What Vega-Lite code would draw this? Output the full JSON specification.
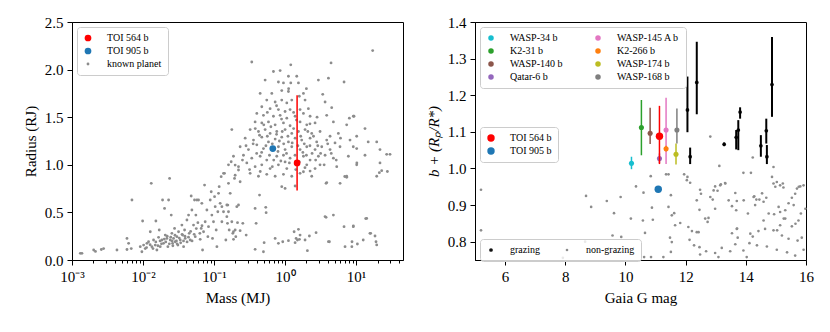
{
  "$schema": "https://vega.github.io/schema/vega-lite/v6.json",
  "padding": {"left": 22, "top": 14, "right": 5, "bottom": 5},
  "config": {
    "font": "Liberation Serif, Times New Roman, serif",
    "view": {"stroke": "black", "strokeWidth": 1},
    "axis": {"domainColor": "black", "tickColor": "black", "labelColor": "black", "titleColor": "black", "labelFont": "Liberation Serif, Times New Roman, serif", "titleFont": "Liberation Serif, Times New Roman, serif", "labelFontSize": 15, "titleFontSize": 15, "titleFontWeight": "normal", "grid": false, "tickSize": 5, "labelPadding": 4, "titlePadding": 6},
    "legend": {"labelFont": "Liberation Serif, Times New Roman, serif", "labelFontSize": 10, "labelColor": "black", "strokeColor": "#cccccc", "fillColor": "rgba(255,255,255,0.8)", "padding": 6, "cornerRadius": 3, "orient": "none", "symbolStrokeWidth": 0, "rowPadding": 3}
  },
  "datasets": {
    "left": [
      {"log10_mass": -2.883, "radius": 0.07, "label": "known planet"},
      {"log10_mass": -2.86, "radius": 0.07, "label": "known planet"},
      {"log10_mass": -2.695, "radius": 0.105, "label": "known planet"},
      {"log10_mass": -2.67, "radius": 0.09, "label": "known planet"},
      {"log10_mass": -2.587, "radius": 0.11, "label": "known planet"},
      {"log10_mass": -2.555, "radius": 0.12, "label": "known planet"},
      {"log10_mass": -2.367, "radius": 0.105, "label": "known planet"},
      {"log10_mass": -2.226, "radius": 0.11, "label": "known planet"},
      {"log10_mass": -2.203, "radius": 0.175, "label": "known planet"},
      {"log10_mass": -2.226, "radius": 0.227, "label": "known planet"},
      {"log10_mass": -2.156, "radius": 0.63, "label": "known planet"},
      {"log10_mass": -2.166, "radius": 0.12, "label": "known planet"},
      {"log10_mass": -2.039, "radius": 0.14, "label": "known planet"},
      {"log10_mass": -2.016, "radius": 0.087, "label": "known planet"},
      {"log10_mass": -2.006, "radius": 0.41, "label": "known planet"},
      {"log10_mass": -1.992, "radius": 0.157, "label": "known planet"},
      {"log10_mass": -1.969, "radius": 0.12, "label": "known planet"},
      {"log10_mass": -1.945, "radius": 0.175, "label": "known planet"},
      {"log10_mass": -1.922, "radius": 0.192, "label": "known planet"},
      {"log10_mass": -1.898, "radius": 0.297, "label": "known planet"},
      {"log10_mass": -1.884, "radius": 0.805, "label": "known planet"},
      {"log10_mass": -1.875, "radius": 0.14, "label": "known planet"},
      {"log10_mass": -1.852, "radius": 0.21, "label": "known planet"},
      {"log10_mass": -1.828, "radius": 0.157, "label": "known planet"},
      {"log10_mass": -1.819, "radius": 0.41, "label": "known planet"},
      {"log10_mass": -1.805, "radius": 0.105, "label": "known planet"},
      {"log10_mass": -1.781, "radius": 0.238, "label": "known planet"},
      {"log10_mass": -1.772, "radius": 0.315, "label": "known planet"},
      {"log10_mass": -1.758, "radius": 0.14, "label": "known planet"},
      {"log10_mass": -1.734, "radius": 0.21, "label": "known planet"},
      {"log10_mass": -1.725, "radius": 0.63, "label": "known planet"},
      {"log10_mass": -1.711, "radius": 0.175, "label": "known planet"},
      {"log10_mass": -1.697, "radius": 0.542, "label": "known planet"},
      {"log10_mass": -1.687, "radius": 0.262, "label": "known planet"},
      {"log10_mass": -1.664, "radius": 0.227, "label": "known planet"},
      {"log10_mass": -1.65, "radius": 0.14, "label": "known planet"},
      {"log10_mass": -1.64, "radius": 0.63, "label": "known planet"},
      {"log10_mass": -1.626, "radius": 0.857, "label": "known planet"},
      {"log10_mass": -1.617, "radius": 0.21, "label": "known planet"},
      {"log10_mass": -1.603, "radius": 0.472, "label": "known planet"},
      {"log10_mass": -1.594, "radius": 0.28, "label": "known planet"},
      {"log10_mass": -1.584, "radius": 0.175, "label": "known planet"},
      {"log10_mass": -1.57, "radius": 0.227, "label": "known planet"},
      {"log10_mass": -1.556, "radius": 0.332, "label": "known planet"},
      {"log10_mass": -1.547, "radius": 0.192, "label": "known planet"},
      {"log10_mass": -1.523, "radius": 0.245, "label": "known planet"},
      {"log10_mass": -1.509, "radius": 0.157, "label": "known planet"},
      {"log10_mass": -1.5, "radius": 0.297, "label": "known planet"},
      {"log10_mass": -1.476, "radius": 0.21, "label": "known planet"},
      {"log10_mass": -1.453, "radius": 0.367, "label": "known planet"},
      {"log10_mass": -1.443, "radius": 0.262, "label": "known planet"},
      {"log10_mass": -1.429, "radius": 0.14, "label": "known planet"},
      {"log10_mass": -1.415, "radius": 0.315, "label": "known planet"},
      {"log10_mass": -1.406, "radius": 0.227, "label": "known planet"},
      {"log10_mass": -1.382, "radius": 0.42, "label": "known planet"},
      {"log10_mass": -1.359, "radius": 0.472, "label": "known planet"},
      {"log10_mass": -1.35, "radius": 0.28, "label": "known planet"},
      {"log10_mass": -1.336, "radius": 0.21, "label": "known planet"},
      {"log10_mass": -1.322, "radius": 0.672, "label": "known planet"},
      {"log10_mass": -1.312, "radius": 0.525, "label": "known planet"},
      {"log10_mass": -1.289, "radius": 0.367, "label": "known planet"},
      {"log10_mass": -1.275, "radius": 0.63, "label": "known planet"},
      {"log10_mass": -1.265, "radius": 0.245, "label": "known planet"},
      {"log10_mass": -1.256, "radius": 0.472, "label": "known planet"},
      {"log10_mass": -1.242, "radius": 0.63, "label": "known planet"},
      {"log10_mass": -1.228, "radius": 0.392, "label": "known planet"},
      {"log10_mass": -1.219, "radius": 0.63, "label": "known planet"},
      {"log10_mass": -1.195, "radius": 0.217, "label": "known planet"},
      {"log10_mass": -1.181, "radius": 0.332, "label": "known planet"},
      {"log10_mass": -1.172, "radius": 0.595, "label": "known planet"},
      {"log10_mass": -1.162, "radius": 0.105, "label": "known planet"},
      {"log10_mass": -1.148, "radius": 0.297, "label": "known planet"},
      {"log10_mass": -1.134, "radius": 0.787, "label": "known planet"},
      {"log10_mass": -1.125, "radius": 0.402, "label": "known planet"},
      {"log10_mass": -1.101, "radius": 0.525, "label": "known planet"},
      {"log10_mass": -1.087, "radius": 0.245, "label": "known planet"},
      {"log10_mass": -1.078, "radius": 0.35, "label": "known planet"},
      {"log10_mass": -1.054, "radius": 0.63, "label": "known planet"},
      {"log10_mass": -1.04, "radius": 0.717, "label": "known planet"},
      {"log10_mass": -1.031, "radius": 0.472, "label": "known planet"},
      {"log10_mass": -1.022, "radius": 0.227, "label": "known planet"},
      {"log10_mass": -1.008, "radius": 0.402, "label": "known planet"},
      {"log10_mass": -0.993, "radius": 0.665, "label": "known planet"},
      {"log10_mass": -0.984, "radius": 0.56, "label": "known planet"},
      {"log10_mass": -0.97, "radius": 0.315, "label": "known planet"},
      {"log10_mass": -0.96, "radius": 0.14, "label": "known planet"},
      {"log10_mass": -0.947, "radius": 0.507, "label": "known planet"},
      {"log10_mass": -0.937, "radius": 0.7, "label": "known planet"},
      {"log10_mass": -0.928, "radius": 0.77, "label": "known planet"},
      {"log10_mass": -0.914, "radius": 0.595, "label": "known planet"},
      {"log10_mass": -0.9, "radius": 0.875, "label": "known planet"},
      {"log10_mass": -0.89, "radius": 0.402, "label": "known planet"},
      {"log10_mass": -0.867, "radius": 0.507, "label": "known planet"},
      {"log10_mass": -0.853, "radius": 0.91, "label": "known planet"},
      {"log10_mass": -0.834, "radius": 0.21, "label": "known planet"},
      {"log10_mass": -0.82, "radius": 0.455, "label": "known planet"},
      {"log10_mass": -0.806, "radius": 0.577, "label": "known planet"},
      {"log10_mass": -0.797, "radius": 0.805, "label": "known planet"},
      {"log10_mass": -0.787, "radius": 0.315, "label": "known planet"},
      {"log10_mass": -0.773, "radius": 0.7, "label": "known planet"},
      {"log10_mass": -0.759, "radius": 1.032, "label": "known planet"},
      {"log10_mass": -0.75, "radius": 0.402, "label": "known planet"},
      {"log10_mass": -0.727, "radius": 0.297, "label": "known planet"},
      {"log10_mass": -0.712, "radius": 0.857, "label": "known planet"},
      {"log10_mass": -0.703, "radius": 0.997, "label": "known planet"},
      {"log10_mass": -0.694, "radius": 0.245, "label": "known planet"},
      {"log10_mass": -0.68, "radius": 0.56, "label": "known planet"},
      {"log10_mass": -0.656, "radius": 0.945, "label": "known planet"},
      {"log10_mass": -1.95, "radius": 0.13, "label": "known planet"},
      {"log10_mass": -1.9, "radius": 0.16, "label": "known planet"},
      {"log10_mass": -1.86, "radius": 0.12, "label": "known planet"},
      {"log10_mass": -1.82, "radius": 0.19, "label": "known planet"},
      {"log10_mass": -1.79, "radius": 0.15, "label": "known planet"},
      {"log10_mass": -1.76, "radius": 0.2, "label": "known planet"},
      {"log10_mass": -1.74, "radius": 0.17, "label": "known planet"},
      {"log10_mass": -1.7, "radius": 0.22, "label": "known planet"},
      {"log10_mass": -1.68, "radius": 0.19, "label": "known planet"},
      {"log10_mass": -1.66, "radius": 0.25, "label": "known planet"},
      {"log10_mass": -1.63, "radius": 0.17, "label": "known planet"},
      {"log10_mass": -1.61, "radius": 0.24, "label": "known planet"},
      {"log10_mass": -1.59, "radius": 0.2, "label": "known planet"},
      {"log10_mass": -1.58, "radius": 0.15, "label": "known planet"},
      {"log10_mass": -1.55, "radius": 0.26, "label": "known planet"},
      {"log10_mass": -1.53, "radius": 0.2, "label": "known planet"},
      {"log10_mass": -1.52, "radius": 0.17, "label": "known planet"},
      {"log10_mass": -1.49, "radius": 0.23, "label": "known planet"},
      {"log10_mass": -1.47, "radius": 0.18, "label": "known planet"},
      {"log10_mass": -1.45, "radius": 0.27, "label": "known planet"},
      {"log10_mass": -1.43, "radius": 0.2, "label": "known planet"},
      {"log10_mass": -1.41, "radius": 0.25, "label": "known planet"},
      {"log10_mass": -1.38, "radius": 0.19, "label": "known planet"},
      {"log10_mass": -1.36, "radius": 0.24, "label": "known planet"},
      {"log10_mass": -1.33, "radius": 0.3, "label": "known planet"},
      {"log10_mass": -1.31, "radius": 0.2, "label": "known planet"},
      {"log10_mass": -1.28, "radius": 0.27, "label": "known planet"},
      {"log10_mass": -1.25, "radius": 0.33, "label": "known planet"},
      {"log10_mass": -1.2, "radius": 0.28, "label": "known planet"},
      {"log10_mass": -1.17, "radius": 0.36, "label": "known planet"},
      {"log10_mass": -0.469, "radius": 2.08, "label": "known planet"},
      {"log10_mass": 0.08, "radius": 2.05, "label": "known planet"},
      {"log10_mass": 0.647, "radius": 2.07, "label": "known planet"},
      {"log10_mass": -0.164, "radius": 1.98, "label": "known planet"},
      {"log10_mass": -0.07, "radius": 1.99, "label": "known planet"},
      {"log10_mass": 0.047, "radius": 1.93, "label": "known planet"},
      {"log10_mass": 0.164, "radius": 1.93, "label": "known planet"},
      {"log10_mass": -0.281, "radius": 1.89, "label": "known planet"},
      {"log10_mass": -0.094, "radius": 1.87, "label": "known planet"},
      {"log10_mass": -0.023, "radius": 1.86, "label": "known planet"},
      {"log10_mass": 0.08, "radius": 1.86, "label": "known planet"},
      {"log10_mass": 0.188, "radius": 1.86, "label": "known planet"},
      {"log10_mass": 0.469, "radius": 1.89, "label": "known planet"},
      {"log10_mass": 0.61, "radius": 1.91, "label": "known planet"},
      {"log10_mass": 0.83, "radius": 1.87, "label": "known planet"},
      {"log10_mass": -0.351, "radius": 1.75, "label": "known planet"},
      {"log10_mass": -0.187, "radius": 1.75, "label": "known planet"},
      {"log10_mass": -0.047, "radius": 1.78, "label": "known planet"},
      {"log10_mass": 0.047, "radius": 1.77, "label": "known planet"},
      {"log10_mass": 0.258, "radius": 1.75, "label": "known planet"},
      {"log10_mass": 0.53, "radius": 1.74, "label": "known planet"},
      {"log10_mass": -0.258, "radius": 1.68, "label": "known planet"},
      {"log10_mass": -0.14, "radius": 1.66, "label": "known planet"},
      {"log10_mass": -0.047, "radius": 1.68, "label": "known planet"},
      {"log10_mass": 0.024, "radius": 1.65, "label": "known planet"},
      {"log10_mass": 0.094, "radius": 1.68, "label": "known planet"},
      {"log10_mass": 0.281, "radius": 1.68, "label": "known planet"},
      {"log10_mass": 0.563, "radius": 1.66, "label": "known planet"},
      {"log10_mass": -0.328, "radius": 1.61, "label": "known planet"},
      {"log10_mass": -0.211, "radius": 1.59, "label": "known planet"},
      {"log10_mass": -0.094, "radius": 1.58, "label": "known planet"},
      {"log10_mass": 0.0, "radius": 1.56, "label": "known planet"},
      {"log10_mass": 0.07, "radius": 1.58, "label": "known planet"},
      {"log10_mass": 0.211, "radius": 1.58, "label": "known planet"},
      {"log10_mass": 0.328, "radius": 1.59, "label": "known planet"},
      {"log10_mass": 0.656, "radius": 1.6, "label": "known planet"},
      {"log10_mass": -0.398, "radius": 1.54, "label": "known planet"},
      {"log10_mass": -0.305, "radius": 1.52, "label": "known planet"},
      {"log10_mass": -0.164, "radius": 1.51, "label": "known planet"},
      {"log10_mass": -0.07, "radius": 1.52, "label": "known planet"},
      {"log10_mass": 0.024, "radius": 1.49, "label": "known planet"},
      {"log10_mass": 0.141, "radius": 1.51, "label": "known planet"},
      {"log10_mass": 0.258, "radius": 1.54, "label": "known planet"},
      {"log10_mass": 0.352, "radius": 1.51, "label": "known planet"},
      {"log10_mass": 0.586, "radius": 1.52, "label": "known planet"},
      {"log10_mass": 0.961, "radius": 1.51, "label": "known planet"},
      {"log10_mass": -0.422, "radius": 1.45, "label": "known planet"},
      {"log10_mass": -0.328, "radius": 1.44, "label": "known planet"},
      {"log10_mass": -0.234, "radius": 1.45, "label": "known planet"},
      {"log10_mass": -0.14, "radius": 1.42, "label": "known planet"},
      {"log10_mass": -0.023, "radius": 1.44, "label": "known planet"},
      {"log10_mass": 0.07, "radius": 1.41, "label": "known planet"},
      {"log10_mass": 0.211, "radius": 1.45, "label": "known planet"},
      {"log10_mass": 0.305, "radius": 1.42, "label": "known planet"},
      {"log10_mass": 0.422, "radius": 1.44, "label": "known planet"},
      {"log10_mass": 0.68, "radius": 1.45, "label": "known planet"},
      {"log10_mass": 0.867, "radius": 1.42, "label": "known planet"},
      {"log10_mass": 1.125, "radius": 1.38, "label": "known planet"},
      {"log10_mass": -0.75, "radius": 1.37, "label": "known planet"},
      {"log10_mass": -0.492, "radius": 1.37, "label": "known planet"},
      {"log10_mass": -0.375, "radius": 1.35, "label": "known planet"},
      {"log10_mass": -0.281, "radius": 1.37, "label": "known planet"},
      {"log10_mass": -0.211, "radius": 1.33, "label": "known planet"},
      {"log10_mass": -0.117, "radius": 1.35, "label": "known planet"},
      {"log10_mass": 0.0, "radius": 1.37, "label": "known planet"},
      {"log10_mass": 0.094, "radius": 1.33, "label": "known planet"},
      {"log10_mass": 0.188, "radius": 1.35, "label": "known planet"},
      {"log10_mass": 0.281, "radius": 1.37, "label": "known planet"},
      {"log10_mass": 0.375, "radius": 1.33, "label": "known planet"},
      {"log10_mass": 0.492, "radius": 1.35, "label": "known planet"},
      {"log10_mass": 0.633, "radius": 1.3, "label": "known planet"},
      {"log10_mass": 0.75, "radius": 1.33, "label": "known planet"},
      {"log10_mass": 1.008, "radius": 1.3, "label": "known planet"},
      {"log10_mass": 1.29, "radius": 1.24, "label": "known planet"},
      {"log10_mass": -0.562, "radius": 1.28, "label": "known planet"},
      {"log10_mass": -0.445, "radius": 1.26, "label": "known planet"},
      {"log10_mass": -0.328, "radius": 1.29, "label": "known planet"},
      {"log10_mass": -0.234, "radius": 1.24, "label": "known planet"},
      {"log10_mass": -0.14, "radius": 1.27, "label": "known planet"},
      {"log10_mass": -0.047, "radius": 1.29, "label": "known planet"},
      {"log10_mass": 0.047, "radius": 1.24, "label": "known planet"},
      {"log10_mass": 0.141, "radius": 1.28, "label": "known planet"},
      {"log10_mass": 0.234, "radius": 1.26, "label": "known planet"},
      {"log10_mass": 0.352, "radius": 1.28, "label": "known planet"},
      {"log10_mass": 0.445, "radius": 1.24, "label": "known planet"},
      {"log10_mass": 0.586, "radius": 1.26, "label": "known planet"},
      {"log10_mass": 0.703, "radius": 1.23, "label": "known planet"},
      {"log10_mass": 0.914, "radius": 1.26, "label": "known planet"},
      {"log10_mass": -0.633, "radius": 1.19, "label": "known planet"},
      {"log10_mass": -0.516, "radius": 1.16, "label": "known planet"},
      {"log10_mass": -0.398, "radius": 1.21, "label": "known planet"},
      {"log10_mass": -0.305, "radius": 1.17, "label": "known planet"},
      {"log10_mass": -0.094, "radius": 1.19, "label": "known planet"},
      {"log10_mass": 0.0, "radius": 1.16, "label": "known planet"},
      {"log10_mass": 0.094, "radius": 1.19, "label": "known planet"},
      {"log10_mass": 0.211, "radius": 1.16, "label": "known planet"},
      {"log10_mass": 0.305, "radius": 1.19, "label": "known planet"},
      {"log10_mass": 0.422, "radius": 1.16, "label": "known planet"},
      {"log10_mass": 0.516, "radius": 1.19, "label": "known planet"},
      {"log10_mass": 0.633, "radius": 1.16, "label": "known planet"},
      {"log10_mass": 0.773, "radius": 1.19, "label": "known planet"},
      {"log10_mass": 1.008, "radius": 1.17, "label": "known planet"},
      {"log10_mass": 1.336, "radius": 1.16, "label": "known planet"},
      {"log10_mass": -0.727, "radius": 1.09, "label": "known planet"},
      {"log10_mass": -0.586, "radius": 1.1, "label": "known planet"},
      {"log10_mass": -0.469, "radius": 1.07, "label": "known planet"},
      {"log10_mass": -0.351, "radius": 1.09, "label": "known planet"},
      {"log10_mass": -0.258, "radius": 1.05, "label": "known planet"},
      {"log10_mass": -0.117, "radius": 1.09, "label": "known planet"},
      {"log10_mass": -0.023, "radius": 1.1, "label": "known planet"},
      {"log10_mass": 0.07, "radius": 1.07, "label": "known planet"},
      {"log10_mass": 0.258, "radius": 1.09, "label": "known planet"},
      {"log10_mass": 0.352, "radius": 1.05, "label": "known planet"},
      {"log10_mass": 0.469, "radius": 1.09, "label": "known planet"},
      {"log10_mass": 0.563, "radius": 1.1, "label": "known planet"},
      {"log10_mass": 0.68, "radius": 1.07, "label": "known planet"},
      {"log10_mass": 0.891, "radius": 1.09, "label": "known planet"},
      {"log10_mass": 1.43, "radius": 1.11, "label": "known planet"},
      {"log10_mass": 1.477, "radius": 1.11, "label": "known planet"},
      {"log10_mass": -0.797, "radius": 1.0, "label": "known planet"},
      {"log10_mass": -0.656, "radius": 0.98, "label": "known planet"},
      {"log10_mass": -0.539, "radius": 1.02, "label": "known planet"},
      {"log10_mass": -0.422, "radius": 0.98, "label": "known planet"},
      {"log10_mass": -0.328, "radius": 1.0, "label": "known planet"},
      {"log10_mass": -0.211, "radius": 0.96, "label": "known planet"},
      {"log10_mass": -0.094, "radius": 1.0, "label": "known planet"},
      {"log10_mass": 0.024, "radius": 0.96, "label": "known planet"},
      {"log10_mass": 0.305, "radius": 1.0, "label": "known planet"},
      {"log10_mass": 0.422, "radius": 0.96, "label": "known planet"},
      {"log10_mass": 0.492, "radius": 1.0, "label": "known planet"},
      {"log10_mass": 0.727, "radius": 0.98, "label": "known planet"},
      {"log10_mass": 1.008, "radius": 1.0, "label": "known planet"},
      {"log10_mass": 1.336, "radius": 1.02, "label": "known planet"},
      {"log10_mass": -0.867, "radius": 0.91, "label": "known planet"},
      {"log10_mass": -0.703, "radius": 0.89, "label": "known planet"},
      {"log10_mass": -0.492, "radius": 0.91, "label": "known planet"},
      {"log10_mass": -0.375, "radius": 0.88, "label": "known planet"},
      {"log10_mass": -0.258, "radius": 0.9, "label": "known planet"},
      {"log10_mass": -0.14, "radius": 0.88, "label": "known planet"},
      {"log10_mass": -0.023, "radius": 0.9, "label": "known planet"},
      {"log10_mass": 0.094, "radius": 0.88, "label": "known planet"},
      {"log10_mass": 0.211, "radius": 0.91, "label": "known planet"},
      {"log10_mass": 0.375, "radius": 0.88, "label": "known planet"},
      {"log10_mass": 0.867, "radius": 0.88, "label": "known planet"},
      {"log10_mass": 1.29, "radius": 0.88, "label": "known planet"},
      {"log10_mass": -0.89, "radius": 0.56, "label": "known planet"},
      {"log10_mass": -0.82, "radius": 0.578, "label": "known planet"},
      {"log10_mass": -0.797, "radius": 0.507, "label": "known planet"},
      {"log10_mass": -0.656, "radius": 0.578, "label": "known planet"},
      {"log10_mass": -0.811, "radius": 0.385, "label": "known planet"},
      {"log10_mass": -0.67, "radius": 0.392, "label": "known planet"},
      {"log10_mass": -0.595, "radius": 0.385, "label": "known planet"},
      {"log10_mass": -0.703, "radius": 0.315, "label": "known planet"},
      {"log10_mass": -0.736, "radius": 0.28, "label": "known planet"},
      {"log10_mass": -0.633, "radius": 0.308, "label": "known planet"},
      {"log10_mass": -0.548, "radius": 0.262, "label": "known planet"},
      {"log10_mass": -0.726, "radius": 0.217, "label": "known planet"},
      {"log10_mass": -0.422, "radius": 0.542, "label": "known planet"},
      {"log10_mass": -0.408, "radius": 0.385, "label": "known planet"},
      {"log10_mass": -0.272, "radius": 0.553, "label": "known planet"},
      {"log10_mass": -0.267, "radius": 0.497, "label": "known planet"},
      {"log10_mass": -0.422, "radius": 0.112, "label": "known planet"},
      {"log10_mass": -0.295, "radius": 0.182, "label": "known planet"},
      {"log10_mass": -0.305, "radius": 0.087, "label": "known planet"},
      {"log10_mass": -0.14, "radius": 0.227, "label": "known planet"},
      {"log10_mass": -0.094, "radius": 0.175, "label": "known planet"},
      {"log10_mass": -0.033, "radius": 0.192, "label": "known planet"},
      {"log10_mass": 0.047, "radius": 0.203, "label": "known planet"},
      {"log10_mass": 0.127, "radius": 0.297, "label": "known planet"},
      {"log10_mass": 0.188, "radius": 0.322, "label": "known planet"},
      {"log10_mass": 0.155, "radius": 0.227, "label": "known planet"},
      {"log10_mass": 0.174, "radius": 0.21, "label": "known planet"},
      {"log10_mass": 0.202, "radius": 0.217, "label": "known planet"},
      {"log10_mass": 0.141, "radius": 0.182, "label": "known planet"},
      {"log10_mass": 0.211, "radius": 0.262, "label": "known planet"},
      {"log10_mass": 0.281, "radius": 0.21, "label": "known planet"},
      {"log10_mass": 0.314, "radius": 0.098, "label": "known planet"},
      {"log10_mass": 0.342, "radius": 0.252, "label": "known planet"},
      {"log10_mass": 0.436, "radius": 0.287, "label": "known planet"},
      {"log10_mass": 0.577, "radius": 0.448, "label": "known planet"},
      {"log10_mass": 0.68, "radius": 0.472, "label": "known planet"},
      {"log10_mass": 0.624, "radius": 0.192, "label": "known planet"},
      {"log10_mass": 0.844, "radius": 0.14, "label": "known planet"},
      {"log10_mass": 0.83, "radius": 0.35, "label": "known planet"},
      {"log10_mass": 0.961, "radius": 0.357, "label": "known planet"},
      {"log10_mass": 0.942, "radius": 0.192, "label": "known planet"},
      {"log10_mass": 1.018, "radius": 0.168, "label": "known planet"},
      {"log10_mass": 1.149, "radius": 0.437, "label": "known planet"},
      {"log10_mass": 1.205, "radius": 0.28, "label": "known planet"},
      {"log10_mass": 1.266, "radius": 0.252, "label": "known planet"},
      {"log10_mass": 1.28, "radius": 0.192, "label": "known planet"},
      {"log10_mass": 1.327, "radius": 0.917, "label": "known planet"},
      {"log10_mass": 1.36, "radius": 0.938, "label": "known planet"},
      {"log10_mass": 0.774, "radius": 0.805, "label": "known planet"},
      {"log10_mass": 0.577, "radius": 0.805, "label": "known planet"},
      {"log10_mass": 0.867, "radius": 0.868, "label": "known planet"},
      {"log10_mass": 0.352, "radius": 0.934, "label": "known planet"},
      {"log10_mass": 0.258, "radius": 0.927, "label": "known planet"},
      {"log10_mass": -0.047, "radius": 0.77, "label": "known planet"},
      {"log10_mass": 0.0, "radius": 0.752, "label": "known planet"},
      {"log10_mass": 0.141, "radius": 0.777, "label": "known planet"},
      {"log10_mass": -0.36, "radius": 0.682, "label": "known planet"},
      {"log10_mass": -0.633, "radius": 0.822, "label": "known planet"},
      {"log10_mass": 1.233, "radius": 2.2, "label": "known planet"},
      {"log10_mass": 0.905, "radius": 1.49, "label": "known planet"},
      {"log10_mass": 0.97, "radius": 1.51, "label": "known planet"},
      {"log10_mass": 0.96, "radius": 1.19, "label": "known planet"},
      {"log10_mass": 1.01, "radius": 1.02, "label": "known planet"},
      {"log10_mass": 1.125, "radius": 1.1, "label": "known planet"},
      {"log10_mass": 0.586, "radius": 0.813, "label": "known planet"},
      {"log10_mass": 0.84, "radius": 0.877, "label": "known planet"},
      {"log10_mass": 0.563, "radius": 0.456, "label": "known planet"},
      {"log10_mass": 0.96, "radius": 0.35, "label": "known planet"},
      {"log10_mass": 1.135, "radius": 0.435, "label": "known planet"},
      {"log10_mass": 1.195, "radius": 0.28, "label": "known planet"},
      {"log10_mass": 1.29, "radius": 0.158, "label": "known planet"},
      {"log10_mass": 0.94, "radius": 0.14, "label": "known planet"},
      {"log10_mass": 1.1, "radius": 0.21, "label": "known planet"},
      {"log10_mass": 0.61, "radius": 0.193, "label": "known planet"},
      {"log10_mass": 1.17, "radius": 1.24, "label": "known planet"},
      {"log10_mass": 1.44, "radius": 0.93, "label": "known planet"},
      {"log10_mass": -0.45, "radius": 1.22, "label": "known planet"},
      {"log10_mass": -0.4, "radius": 1.12, "label": "known planet"},
      {"log10_mass": -0.36, "radius": 1.31, "label": "known planet"},
      {"log10_mass": -0.33, "radius": 1.13, "label": "known planet"},
      {"log10_mass": -0.3, "radius": 1.42, "label": "known planet"},
      {"log10_mass": -0.27, "radius": 1.2, "label": "known planet"},
      {"log10_mass": -0.25, "radius": 1.3, "label": "known planet"},
      {"log10_mass": -0.22, "radius": 1.1, "label": "known planet"},
      {"log10_mass": -0.2, "radius": 1.4, "label": "known planet"},
      {"log10_mass": -0.18, "radius": 1.22, "label": "known planet"},
      {"log10_mass": -0.16, "radius": 1.05, "label": "known planet"},
      {"log10_mass": -0.12, "radius": 1.32, "label": "known planet"},
      {"log10_mass": -0.1, "radius": 1.14, "label": "known planet"},
      {"log10_mass": -0.08, "radius": 1.25, "label": "known planet"},
      {"log10_mass": -0.06, "radius": 1.04, "label": "known planet"},
      {"log10_mass": -0.04, "radius": 1.35, "label": "known planet"},
      {"log10_mass": -0.02, "radius": 1.22, "label": "known planet"},
      {"log10_mass": 0.02, "radius": 1.12, "label": "known planet"},
      {"log10_mass": 0.04, "radius": 1.3, "label": "known planet"},
      {"log10_mass": 0.06, "radius": 1.02, "label": "known planet"},
      {"log10_mass": 0.1, "radius": 1.23, "label": "known planet"},
      {"log10_mass": 0.12, "radius": 1.38, "label": "known planet"},
      {"log10_mass": 0.14, "radius": 1.1, "label": "known planet"},
      {"log10_mass": 0.16, "radius": 1.47, "label": "known planet"},
      {"log10_mass": 0.18, "radius": 1.2, "label": "known planet"},
      {"log10_mass": 0.2, "radius": 1.03, "label": "known planet"},
      {"log10_mass": 0.22, "radius": 1.3, "label": "known planet"},
      {"log10_mass": 0.25, "radius": 1.13, "label": "known planet"},
      {"log10_mass": 0.27, "radius": 1.22, "label": "known planet"},
      {"log10_mass": 0.3, "radius": 1.1, "label": "known planet"},
      {"log10_mass": 0.32, "radius": 1.35, "label": "known planet"},
      {"log10_mass": 0.35, "radius": 1.2, "label": "known planet"},
      {"log10_mass": 0.38, "radius": 1.12, "label": "known planet"},
      {"log10_mass": 0.4, "radius": 1.3, "label": "known planet"},
      {"log10_mass": 0.43, "radius": 1.05, "label": "known planet"},
      {"log10_mass": 0.46, "radius": 1.2, "label": "known planet"},
      {"log10_mass": 0.5, "radius": 1.12, "label": "known planet"},
      {"log10_mass": 0.55, "radius": 1.0, "label": "known planet"},
      {"log10_mass": 0.6, "radius": 1.22, "label": "known planet"},
      {"log10_mass": 0.65, "radius": 1.12, "label": "known planet"},
      {"log10_mass": 0.72, "radius": 1.05, "label": "known planet"},
      {"log10_mass": 0.78, "radius": 1.28, "label": "known planet"},
      {"log10_mass": -0.55, "radius": 1.2, "label": "known planet"},
      {"log10_mass": -0.6, "radius": 1.05, "label": "known planet"},
      {"log10_mass": -0.5, "radius": 0.95, "label": "known planet"},
      {"log10_mass": -0.35, "radius": 0.93, "label": "known planet"},
      {"log10_mass": -0.18, "radius": 0.98, "label": "known planet"},
      {"log10_mass": 0.0, "radius": 1.03, "label": "known planet"},
      {"log10_mass": 0.15, "radius": 0.95, "label": "known planet"},
      {"log10_mass": 0.28, "radius": 0.97, "label": "known planet"},
      {"log10_mass": -0.42, "radius": 1.38, "label": "known planet"},
      {"log10_mass": -0.05, "radius": 1.48, "label": "known planet"},
      {"log10_mass": 0.12, "radius": 1.55, "label": "known planet"},
      {"log10_mass": -0.25, "radius": 1.55, "label": "known planet"},
      {"log10_mass": 0.35, "radius": 1.43, "label": "known planet"},
      {"log10_mass": 0.45, "radius": 1.5, "label": "known planet"},
      {"log10_mass": -0.12, "radius": 1.62, "label": "known planet"},
      {"log10_mass": 0.2, "radius": 1.72, "label": "known planet"},
      {"log10_mass": 0.05, "radius": 1.8, "label": "known planet"},
      {"log10_mass": 0.3, "radius": 1.8, "label": "known planet"},
      {"log10_mass": -0.173, "radius": 1.17, "label": "TOI 905 b"},
      {"log10_mass": 0.169, "radius": 1.02, "label": "TOI 564 b", "radius_low": 0.73, "radius_high": 1.73}
    ],
    "right_pts": [
      {"gaia_g": 5.2, "value": 0.942, "type": "non-grazing"},
      {"gaia_g": 5.2, "value": 0.831, "type": "non-grazing"},
      {"gaia_g": 7.92, "value": 0.756, "type": "non-grazing"},
      {"gaia_g": 8.66, "value": 0.8, "type": "non-grazing"},
      {"gaia_g": 8.69, "value": 0.925, "type": "non-grazing"},
      {"gaia_g": 8.86, "value": 0.895, "type": "non-grazing"},
      {"gaia_g": 9.38, "value": 0.911, "type": "non-grazing"},
      {"gaia_g": 9.57, "value": 0.817, "type": "non-grazing"},
      {"gaia_g": 9.62, "value": 0.878, "type": "non-grazing"},
      {"gaia_g": 9.84, "value": 0.922, "type": "non-grazing"},
      {"gaia_g": 9.86, "value": 0.813, "type": "non-grazing"},
      {"gaia_g": 10.18, "value": 0.863, "type": "non-grazing"},
      {"gaia_g": 10.35, "value": 0.951, "type": "non-grazing"},
      {"gaia_g": 10.6, "value": 0.934, "type": "non-grazing"},
      {"gaia_g": 10.58, "value": 0.858, "type": "non-grazing"},
      {"gaia_g": 10.65, "value": 0.824, "type": "non-grazing"},
      {"gaia_g": 10.84, "value": 0.979, "type": "non-grazing"},
      {"gaia_g": 10.88, "value": 0.893, "type": "non-grazing"},
      {"gaia_g": 10.91, "value": 0.86, "type": "non-grazing"},
      {"gaia_g": 10.62, "value": 0.758, "type": "non-grazing"},
      {"gaia_g": 10.85, "value": 0.758, "type": "non-grazing"},
      {"gaia_g": 11.26, "value": 0.758, "type": "non-grazing"},
      {"gaia_g": 11.35, "value": 0.984, "type": "non-grazing"},
      {"gaia_g": 11.43, "value": 0.984, "type": "non-grazing"},
      {"gaia_g": 11.95, "value": 0.984, "type": "non-grazing"},
      {"gaia_g": 12.06, "value": 0.977, "type": "non-grazing"},
      {"gaia_g": 11.43, "value": 0.895, "type": "non-grazing"},
      {"gaia_g": 11.51, "value": 0.927, "type": "non-grazing"},
      {"gaia_g": 11.62, "value": 0.878, "type": "non-grazing"},
      {"gaia_g": 11.54, "value": 0.872, "type": "non-grazing"},
      {"gaia_g": 11.48, "value": 0.811, "type": "non-grazing"},
      {"gaia_g": 11.54, "value": 0.799, "type": "non-grazing"},
      {"gaia_g": 11.51, "value": 0.772, "type": "non-grazing"},
      {"gaia_g": 11.65, "value": 0.845, "type": "non-grazing"},
      {"gaia_g": 11.82, "value": 0.851, "type": "non-grazing"},
      {"gaia_g": 12.04, "value": 0.968, "type": "non-grazing"},
      {"gaia_g": 12.15, "value": 0.961, "type": "non-grazing"},
      {"gaia_g": 12.09, "value": 0.84, "type": "non-grazing"},
      {"gaia_g": 12.21, "value": 0.829, "type": "non-grazing"},
      {"gaia_g": 12.37, "value": 0.826, "type": "non-grazing"},
      {"gaia_g": 12.13, "value": 0.805, "type": "non-grazing"},
      {"gaia_g": 12.28, "value": 0.79, "type": "non-grazing"},
      {"gaia_g": 12.46, "value": 0.785, "type": "non-grazing"},
      {"gaia_g": 12.48, "value": 0.942, "type": "non-grazing"},
      {"gaia_g": 12.51, "value": 0.931, "type": "non-grazing"},
      {"gaia_g": 12.46, "value": 0.887, "type": "non-grazing"},
      {"gaia_g": 12.73, "value": 0.854, "type": "non-grazing"},
      {"gaia_g": 12.76, "value": 0.865, "type": "non-grazing"},
      {"gaia_g": 12.37, "value": 0.913, "type": "non-grazing"},
      {"gaia_g": 12.98, "value": 0.951, "type": "non-grazing"},
      {"gaia_g": 13.06, "value": 0.939, "type": "non-grazing"},
      {"gaia_g": 13.17, "value": 0.957, "type": "non-grazing"},
      {"gaia_g": 13.31, "value": 0.96, "type": "non-grazing"},
      {"gaia_g": 12.93, "value": 0.94, "type": "non-grazing"},
      {"gaia_g": 12.9, "value": 0.915, "type": "non-grazing"},
      {"gaia_g": 12.82, "value": 0.922, "type": "non-grazing"},
      {"gaia_g": 12.98, "value": 0.89, "type": "non-grazing"},
      {"gaia_g": 13.54, "value": 0.897, "type": "non-grazing"},
      {"gaia_g": 13.65, "value": 0.933, "type": "non-grazing"},
      {"gaia_g": 13.7, "value": 0.911, "type": "non-grazing"},
      {"gaia_g": 13.68, "value": 0.886, "type": "non-grazing"},
      {"gaia_g": 13.92, "value": 0.988, "type": "non-grazing"},
      {"gaia_g": 14.17, "value": 0.988, "type": "non-grazing"},
      {"gaia_g": 14.28, "value": 0.924, "type": "non-grazing"},
      {"gaia_g": 14.35, "value": 0.915, "type": "non-grazing"},
      {"gaia_g": 14.45, "value": 0.915, "type": "non-grazing"},
      {"gaia_g": 14.59, "value": 0.909, "type": "non-grazing"},
      {"gaia_g": 14.68, "value": 0.92, "type": "non-grazing"},
      {"gaia_g": 14.92, "value": 0.959, "type": "non-grazing"},
      {"gaia_g": 14.98, "value": 0.95, "type": "non-grazing"},
      {"gaia_g": 15.03, "value": 0.963, "type": "non-grazing"},
      {"gaia_g": 15.14, "value": 0.954, "type": "non-grazing"},
      {"gaia_g": 15.23, "value": 0.959, "type": "non-grazing"},
      {"gaia_g": 15.25, "value": 0.948, "type": "non-grazing"},
      {"gaia_g": 14.94, "value": 0.875, "type": "non-grazing"},
      {"gaia_g": 15.14, "value": 0.881, "type": "non-grazing"},
      {"gaia_g": 15.31, "value": 0.886, "type": "non-grazing"},
      {"gaia_g": 15.42, "value": 0.905, "type": "non-grazing"},
      {"gaia_g": 15.53, "value": 0.92, "type": "non-grazing"},
      {"gaia_g": 15.64, "value": 0.931, "type": "non-grazing"},
      {"gaia_g": 15.81, "value": 0.951, "type": "non-grazing"},
      {"gaia_g": 15.92, "value": 0.954, "type": "non-grazing"},
      {"gaia_g": 15.7, "value": 0.945, "type": "non-grazing"},
      {"gaia_g": 15.59, "value": 0.9, "type": "non-grazing"},
      {"gaia_g": 15.31, "value": 0.863, "type": "non-grazing"},
      {"gaia_g": 15.14, "value": 0.845, "type": "non-grazing"},
      {"gaia_g": 15.53, "value": 0.842, "type": "non-grazing"},
      {"gaia_g": 15.75, "value": 0.858, "type": "non-grazing"},
      {"gaia_g": 15.83, "value": 0.877, "type": "non-grazing"},
      {"gaia_g": 14.92, "value": 0.831, "type": "non-grazing"},
      {"gaia_g": 15.2, "value": 0.817, "type": "non-grazing"},
      {"gaia_g": 15.42, "value": 0.808, "type": "non-grazing"},
      {"gaia_g": 15.72, "value": 0.803, "type": "non-grazing"},
      {"gaia_g": 15.86, "value": 0.811, "type": "non-grazing"},
      {"gaia_g": 15.92, "value": 0.778, "type": "non-grazing"},
      {"gaia_g": 14.64, "value": 0.835, "type": "non-grazing"},
      {"gaia_g": 14.42, "value": 0.829, "type": "non-grazing"},
      {"gaia_g": 14.23, "value": 0.814, "type": "non-grazing"},
      {"gaia_g": 14.12, "value": 0.796, "type": "non-grazing"},
      {"gaia_g": 14.37, "value": 0.79, "type": "non-grazing"},
      {"gaia_g": 14.7, "value": 0.787, "type": "non-grazing"},
      {"gaia_g": 15.03, "value": 0.778, "type": "non-grazing"},
      {"gaia_g": 15.37, "value": 0.771, "type": "non-grazing"},
      {"gaia_g": 15.64, "value": 0.762, "type": "non-grazing"},
      {"gaia_g": 13.7, "value": 0.835, "type": "non-grazing"},
      {"gaia_g": 13.54, "value": 0.823, "type": "non-grazing"},
      {"gaia_g": 13.73, "value": 0.811, "type": "non-grazing"},
      {"gaia_g": 13.65, "value": 0.793, "type": "non-grazing"},
      {"gaia_g": 13.48, "value": 0.774, "type": "non-grazing"},
      {"gaia_g": 13.2, "value": 0.783, "type": "non-grazing"},
      {"gaia_g": 12.98, "value": 0.769, "type": "non-grazing"},
      {"gaia_g": 12.68, "value": 0.774, "type": "non-grazing"},
      {"gaia_g": 12.48, "value": 0.765, "type": "non-grazing"},
      {"gaia_g": 13.92, "value": 0.776, "type": "non-grazing"},
      {"gaia_g": 14.03, "value": 0.758, "type": "non-grazing"},
      {"gaia_g": 13.09, "value": 0.758, "type": "non-grazing"},
      {"gaia_g": 13.43, "value": 0.913, "type": "non-grazing"},
      {"gaia_g": 13.71, "value": 0.836, "type": "non-grazing"},
      {"gaia_g": 13.93, "value": 0.913, "type": "non-grazing"},
      {"gaia_g": 14.07, "value": 0.877, "type": "non-grazing"},
      {"gaia_g": 14.15, "value": 0.822, "type": "non-grazing"},
      {"gaia_g": 14.26, "value": 0.922, "type": "non-grazing"},
      {"gaia_g": 14.31, "value": 0.9, "type": "non-grazing"},
      {"gaia_g": 14.54, "value": 0.932, "type": "non-grazing"},
      {"gaia_g": 14.59, "value": 0.858, "type": "non-grazing"},
      {"gaia_g": 14.76, "value": 0.877, "type": "non-grazing"},
      {"gaia_g": 14.87, "value": 0.977, "type": "non-grazing"},
      {"gaia_g": 15.04, "value": 0.831, "type": "non-grazing"},
      {"gaia_g": 15.09, "value": 0.895, "type": "non-grazing"},
      {"gaia_g": 15.26, "value": 0.863, "type": "non-grazing"},
      {"gaia_g": 15.76, "value": 0.95, "type": "non-grazing"},
      {"gaia_g": 15.98, "value": 0.89, "type": "non-grazing"},
      {"gaia_g": 15.65, "value": 0.849, "type": "non-grazing"},
      {"gaia_g": 13.32, "value": 0.959, "type": "non-grazing"},
      {"gaia_g": 13.15, "value": 0.954, "type": "non-grazing"},
      {"gaia_g": 12.65, "value": 0.863, "type": "non-grazing"},
      {"gaia_g": 12.43, "value": 0.826, "type": "non-grazing"},
      {"gaia_g": 12.82, "value": 1.087, "type": "non-grazing"},
      {"gaia_g": 13.12, "value": 1.007, "type": "non-grazing"},
      {"gaia_g": 14.23, "value": 1.03, "type": "non-grazing"},
      {"gaia_g": 14.92, "value": 1.004, "type": "non-grazing"},
      {"gaia_g": 12.06, "value": 1.16, "type": "grazing", "low": 1.099, "high": 1.251},
      {"gaia_g": 12.15, "value": 1.032, "type": "grazing", "low": 1.012, "high": 1.057},
      {"gaia_g": 12.37, "value": 1.235, "type": "grazing", "low": 1.148, "high": 1.346},
      {"gaia_g": 13.28, "value": 1.066, "type": "grazing", "low": 1.061, "high": 1.071},
      {"gaia_g": 13.68, "value": 1.085, "type": "grazing", "low": 1.052, "high": 1.105},
      {"gaia_g": 13.75, "value": 1.105, "type": "grazing", "low": 1.05, "high": 1.132},
      {"gaia_g": 13.81, "value": 1.154, "type": "grazing", "low": 1.136, "high": 1.167},
      {"gaia_g": 14.5, "value": 1.062, "type": "grazing", "low": 1.032, "high": 1.091},
      {"gaia_g": 14.68, "value": 1.103, "type": "grazing", "low": 1.068, "high": 1.136},
      {"gaia_g": 14.7, "value": 1.032, "type": "grazing", "low": 1.012, "high": 1.064},
      {"gaia_g": 14.87, "value": 1.229, "type": "grazing", "low": 1.141, "high": 1.359}
    ],
    "named": [
      {"name": "WASP-34 b", "gaia_g": 10.2, "value": 1.014, "low": 0.998, "high": 1.032},
      {"name": "K2-31 b", "gaia_g": 10.53, "value": 1.112, "low": 1.036, "high": 1.187},
      {"name": "WASP-140 b", "gaia_g": 10.82, "value": 1.096, "low": 1.067, "high": 1.166},
      {"name": "Qatar-6 b", "gaia_g": 11.13, "value": 1.027, "low": 1.015, "high": 1.041},
      {"name": "WASP-145 A b", "gaia_g": 11.35, "value": 1.105, "low": 1.012, "high": 1.193},
      {"name": "K2-266 b", "gaia_g": 11.35, "value": 1.054, "low": 1.046, "high": 1.062},
      {"name": "WASP-174 b", "gaia_g": 11.68, "value": 1.039, "low": 1.011, "high": 1.068},
      {"name": "WASP-168 b", "gaia_g": 11.71, "value": 1.105, "low": 1.068, "high": 1.164}
    ],
    "toi": [
      {"name": "TOI 564 b", "gaia_g": 11.13, "value": 1.088, "low": 1.012, "high": 1.171},
      {"name": "TOI 905 b", "gaia_g": 11.09, "value": 0.943}
    ]
  },
  "spacing": 21,
  "hconcat": [
    {
      "width": 331,
      "height": 238,
      "data": {"name": "left"},
      "encoding": {
        "x": {"field": "log10_mass", "type": "quantitative", "title": "Mass (MJ)", "scale": {"domain": [-3, 1.66], "nice": false, "zero": false},
          "axis": {"values": [-3, -2.699, -2.523, -2.398, -2.301, -2.222, -2.155, -2.097, -2.046, -2, -1.699, -1.523, -1.398, -1.301, -1.222, -1.155, -1.097, -1.046, -1, -0.699, -0.523, -0.398, -0.301, -0.222, -0.155, -0.097, -0.046, 0, 0.301, 0.477, 0.602, 0.699, 0.778, 0.845, 0.903, 0.954, 1, 1.301, 1.477, 1.602],
            "labelExpr": "datum.value == -3 ? '10⁻³' : datum.value == -2 ? '10⁻²' : datum.value == -1 ? '10⁻¹' : datum.value == 0 ? '10⁰' : datum.value == 1 ? '10¹' : ''",
            "tickSize": {"condition": {"test": "datum.value == round(datum.value)", "value": 5}, "value": 3},
            "labelFlush": false}},
        "y": {"field": "radius", "type": "quantitative", "title": "Radius (RJ)", "scale": {"domain": [0, 2.5], "nice": false},
          "axis": {"values": [0, 0.5, 1, 1.5, 2, 2.5], "format": ".1f", "labelFlush": false}}
      },
      "layer": [
        {
          "mark": {"type": "circle", "opacity": 1},
          "encoding": {
            "color": {"field": "label", "type": "nominal", "scale": {"domain": ["TOI 564 b", "TOI 905 b", "known planet"], "range": ["#ff0000", "#1f77b4", "#8c8c8c"]},
              "legend": {"title": null, "orient": "none", "legendX": 5, "legendY": 5, "labelOffset": 14}},
            "size": {"field": "label", "type": "nominal", "scale": {"type": "ordinal", "domain": ["TOI 564 b", "TOI 905 b", "known planet"], "range": [45, 45, 8]},
              "legend": {"title": null, "orient": "none", "legendX": 5, "legendY": 5, "labelOffset": 14}}
          }
        },
        {
          "transform": [{"filter": "isValid(datum.radius_low)"}],
          "mark": {"type": "rule", "color": "#ff0000", "strokeWidth": 1.5},
          "encoding": {"y": {"field": "radius_low", "type": "quantitative"}, "y2": {"field": "radius_high"}}
        }
      ]
    },
    {
      "width": 331,
      "height": 238,
      "encoding": {
        "x": {"field": "gaia_g", "type": "quantitative", "title": "Gaia G mag", "scale": {"domain": [5, 16], "nice": false, "zero": false},
          "axis": {"values": [6, 8, 10, 12, 14, 16], "labelFlush": false}},
        "y": {"field": "value", "type": "quantitative", "title": "b + (Rₚ/R*)", "scale": {"domain": [0.75, 1.4], "nice": false, "zero": false},
          "axis": {"values": [0.8, 0.9, 1.0, 1.1, 1.2, 1.3, 1.4], "format": ".1f", "titleFontStyle": "italic", "labelFlush": false}}
      },
      "layer": [
        {
          "data": {"name": "right_pts"},
          "mark": {"type": "circle", "opacity": 1},
          "encoding": {
            "color": {"field": "type", "type": "nominal", "scale": {"domain": ["grazing", "non-grazing"], "range": ["#111111", "#8c8c8c"]},
              "legend": {"title": null, "orient": "none", "legendX": 5, "legendY": 217, "direction": "horizontal", "columns": 2, "columnPadding": 22, "labelOffset": 14}},
            "size": {"field": "type", "type": "nominal", "scale": {"type": "ordinal", "domain": ["grazing", "non-grazing"], "range": [14, 7]},
              "legend": {"title": null, "orient": "none", "legendX": 5, "legendY": 217, "direction": "horizontal", "columns": 2, "columnPadding": 22, "labelOffset": 14}}
          }
        },
        {
          "data": {"values": [{"value": 1.0}]},
          "mark": {"type": "rule", "color": "#ff7f0e", "strokeWidth": 2, "strokeDash": [8, 5]},
          "encoding": {"y": {"field": "value", "type": "quantitative"}}
        },
        {
          "data": {"name": "right_pts"},
          "transform": [{"filter": "datum.type == 'grazing'"}],
          "mark": {"type": "rule", "color": "black", "strokeWidth": 2},
          "encoding": {"y": {"field": "low", "type": "quantitative"}, "y2": {"field": "high"}}
        },
        {
          "data": {"name": "named"},
          "mark": {"type": "rule", "strokeWidth": 1.5},
          "encoding": {
            "y": {"field": "low", "type": "quantitative"}, "y2": {"field": "high"},
            "color": {"field": "name", "type": "nominal", "scale": {"domain": ["WASP-34 b", "K2-31 b", "WASP-140 b", "Qatar-6 b", "WASP-145 A b", "K2-266 b", "WASP-174 b", "WASP-168 b"], "range": ["#17becf", "#2ca02c", "#8c564b", "#9467bd", "#e377c2", "#ff7f0e", "#bcbd22", "#7f7f7f"]}, "legend": null}
          }
        },
        {
          "data": {"name": "named"},
          "mark": {"type": "circle", "opacity": 1, "size": 26},
          "encoding": {
            "color": {"field": "name", "type": "nominal", "scale": {"domain": ["WASP-34 b", "K2-31 b", "WASP-140 b", "Qatar-6 b", "WASP-145 A b", "K2-266 b", "WASP-174 b", "WASP-168 b"], "range": ["#17becf", "#2ca02c", "#8c564b", "#9467bd", "#e377c2", "#ff7f0e", "#bcbd22", "#7f7f7f"]},
              "legend": {"title": null, "orient": "none", "legendX": 5, "legendY": 5, "columns": 2, "columnPadding": 30, "labelOffset": 14, "symbolSize": 30}}
          }
        },
        {
          "data": {"name": "toi"},
          "transform": [{"filter": "isValid(datum.low)"}],
          "mark": {"type": "rule", "strokeWidth": 1.5, "color": "#ff0000"},
          "encoding": {"y": {"field": "low", "type": "quantitative"}, "y2": {"field": "high"}}
        },
        {
          "data": {"name": "toi"},
          "mark": {"type": "circle", "opacity": 1, "size": 55},
          "encoding": {
            "color": {"field": "name", "type": "nominal", "scale": {"domain": ["TOI 564 b", "TOI 905 b"], "range": ["#ff0000", "#1f77b4"]},
              "legend": {"title": null, "orient": "none", "legendX": 5, "legendY": 105, "labelOffset": 14, "symbolSize": 55}}
          }
        }
      ],
      "resolve": {"scale": {"color": "independent", "size": "independent"}, "legend": {"color": "independent", "size": "independent"}}
    }
  ]
}
